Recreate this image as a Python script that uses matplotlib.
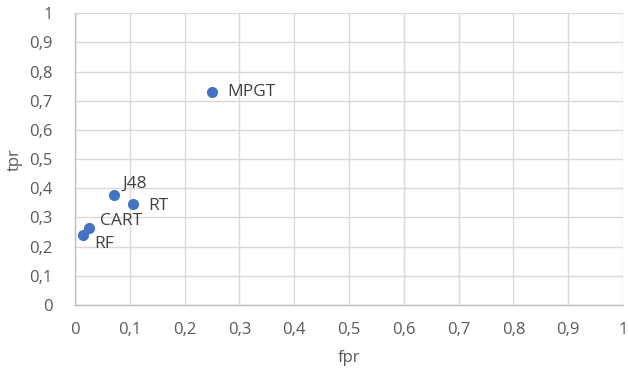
import matplotlib
matplotlib.use("Agg")
import matplotlib.pyplot as plt
import numpy as np

names = ["MPGT", "J48", "RT", "CART", "RF"]
fpr = [0.250, 0.071, 0.105, 0.025, 0.014]
tpr = [0.731, 0.377, 0.345, 0.265, 0.239]
label_offsets = {"MPGT": (11, 0), "J48": (6, 8),
                 "RT": (11, -1), "CART": (8, 5),
                 "RF": (8, -6)}
ticks = [round(0.1 * i, 1) for i in range(11)]
tick_labels = ["0" if t == 0 else ("1" if t == 1 else f"{t:.1f}".replace(".", ",")) for t in ticks]

plt.rcParams['font.family'] = ['Open Sans', 'DejaVu Sans']
gray = "#595959"

fig = plt.figure(figsize=(6.28, 3.75), dpi=100)
ax = fig.add_axes([0.1194, 0.1867, 0.8726, 0.7778])
ax.scatter(fpr, tpr, s=64, color="#4472C4", zorder=3, linewidths=0)
for n, x, y in zip(names, fpr, tpr):
    dx, dy = label_offsets[n]
    ax.annotate(n, (x, y), xytext=(dx, dy), textcoords="offset points",
                ha="left", va="center", fontsize=12.5, color="#404040")

ax.set_xlim(0, 1)
ax.set_ylim(0, 1)
ax.set_xticks(ticks)
ax.set_yticks(ticks)
ax.set_xticklabels(tick_labels)
ax.set_yticklabels(tick_labels)
ax.tick_params(length=0, labelsize=12, labelcolor=gray)
ax.tick_params(axis='y', pad=16)
ax.tick_params(axis='x', pad=12)
ax.grid(True, color="#d9d9d9", linewidth=1)
ax.set_axisbelow(True)
for s in ["top", "right"]:
    ax.spines[s].set_visible(False)
for s in ["left", "bottom"]:
    ax.spines[s].set_color("#bfbfbf")
    ax.spines[s].set_linewidth(1)
ax.set_xlabel("fpr", fontsize=12, color=gray, labelpad=9)
ax.set_ylabel("tpr", fontsize=12, color=gray, labelpad=5)
fig.savefig("out.png", dpi=100)
